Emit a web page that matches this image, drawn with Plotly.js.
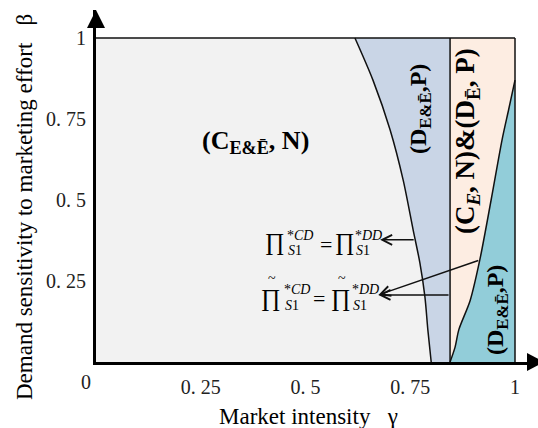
<!DOCTYPE html>
<html><head><meta charset="utf-8">
<script src="https://cdn.plot.ly/plotly-3.0.1.min.js"></script>
<style>html,body{margin:0;padding:0;background:#fff}#chart{width:538px;height:428px}</style>
</head><body><div id="chart"></div>
<script>
// Boundary between (C_E&Ē, N) and (D_E&Ē, P): gamma as function of beta
const b1Beta  = [1.0, 0.870, 0.716, 0.562, 0.407, 0.306, 0.201, 0.099, 0.0];
const b1Gamma = [0.618, 0.661, 0.702, 0.733, 0.757, 0.773, 0.785, 0.792, 0.800];
// Vertical boundary
const b2Gamma = 0.845;
// Boundary between (C_E,N)&(D_Ē,P) and (D_E&Ē,P)
const b3Gamma = [0.845, 0.857, 0.866, 0.893, 0.916, 0.943, 0.969, 0.985, 1.0];
const b3Beta  = [0.0, 0.046, 0.10, 0.19, 0.315, 0.50, 0.685, 0.78, 0.87];
const xTickVals = [0.25, 0.5, 0.75, 1];
const xTickText = ['0. 25', '0. 5', '0. 75', '1'];
const yTickVals = [0.25, 0.5, 0.75, 1];
const yTickText = ['0. 25', '0. 5', '0. 75', '1'];

const SERIF = 'Liberation Serif, Times New Roman, serif';
const L = 96, T = 10, W = 442, H = 352;
function px2x(px) { return (px - L) / W; }
function py2y(py) { return (T + H - py) / H; }
function P(px, py) { return {xref: 'paper', yref: 'paper', x: px2x(px), y: py2y(py)}; }
function interp(xs, ys, v) {
  for (let i = 0; i < xs.length - 1; i++) {
    const a = xs[i], b = xs[i + 1];
    if ((v - a) * (v - b) <= 0) return ys[i] + (ys[i + 1] - ys[i]) * (v - a) / (b - a);
  }
  return ys[ys.length - 1];
}

const gray = '#f2f2f2', blue = '#c9d5e6', peach = '#fdede2', teal = '#92cdd9';
const edge = {color: '#111', width: 1.5};
const traces = [
  {x: [0, b2Gamma, b2Gamma, 0], y: [0, 0, 1, 1], fill: 'toself', fillcolor: blue, mode: 'lines', line: {width: 0}},
  {x: b1Gamma, y: b1Beta, fill: 'tozerox', fillcolor: gray, mode: 'lines', line: Object.assign({shape: 'spline', smoothing: 0.8}, edge)},
  {x: [b2Gamma, 1, 1, b2Gamma], y: [0, 0, 1, 1], fill: 'toself', fillcolor: peach, mode: 'lines', line: {width: 0}},
  {x: b3Gamma, y: b3Beta, fill: 'tozeroy', fillcolor: teal, mode: 'lines', line: Object.assign({shape: 'spline', smoothing: 0.8}, edge)},
  {x: [b2Gamma, b2Gamma], y: [0, 1], mode: 'lines', line: edge},
  {x: [1, 1], y: [0, 1], mode: 'lines', line: edge},
  {x: [0, 1], y: [1, 1], mode: 'lines', line: edge}
];

const ann = [];
function txt(px, py, text, size, opts) {
  ann.push(Object.assign(P(px, py), {text: text, showarrow: false, xanchor: 'center', yanchor: 'middle',
    font: {family: SERIF, size: size, color: '#000'}}, opts || {}));
}
txt(25, 207, 'Demand sensitivity to marketing effort   β', 23, {textangle: -90});
txt(308, 416, 'Market intensity   γ', 23);
txt(86, 382, '0', 20, {font: {family: SERIF, size: 20, color: '#222'}});
txt(255, 142, '<b>(C<sub>E&amp;Ē</sub>, N)</b>', 26);
txt(420, 109, '<b>(D<sub>E&amp;Ē</sub>,P)</b>', 24, {textangle: -90});
txt(467, 141, '<b>(C<sub><i>E</i></sub>, N)&amp;(D<sub>Ē</sub>, P)</b>', 27, {textangle: -90});
txt(497, 310, '<b>(D<sub>E&amp;Ē</sub>,P)</b>', 24, {textangle: -90});
// formula 1
txt(275, 242, '∏', 24);
txt(285, 235, '*<i>CD</i>', 14, {xanchor: 'left'});
txt(286, 251, '<i>S</i>1', 14, {xanchor: 'left'});
txt(326, 244, '=', 22);
txt(345, 242, '∏', 24);
txt(353, 235, '*<i>DD</i>', 14, {xanchor: 'left'});
txt(354, 251, '<i>S</i>1', 14, {xanchor: 'left'});
// formula 2
txt(271, 298, '∏', 24);
txt(272, 278, '~', 14);
txt(282, 289, '*<i>CD</i>', 14, {xanchor: 'left'});
txt(283, 305, '<i>S</i>1', 14, {xanchor: 'left'});
txt(319, 298, '=', 22);
txt(341, 298, '∏', 24);
txt(342, 278, '~', 14);
txt(350, 289, '*<i>DD</i>', 14, {xanchor: 'left'});
txt(351, 305, '<i>S</i>1', 14, {xanchor: 'left'});
function arrow(hx, hy, tx, ty) {
  ann.push({xref: 'x', yref: 'y', axref: 'x', ayref: 'y', x: hx, y: hy, ax: tx, ay: ty, text: '',
    showarrow: true, arrowhead: 5, arrowsize: 1.3, arrowwidth: 1.5, arrowcolor: '#111', standoff: 0, startstandoff: 0});
}
arrow(0.678, 0.377, interp(b1Beta, b1Gamma, 0.377), 0.377);
arrow(0.674, 0.207, b3Gamma[4], b3Beta[4]);
arrow(0.674, 0.207, b2Gamma, 0.207);

function pathOf(pts) { return 'M' + pts.map(p => px2x(p[0]) + ',' + py2y(p[1])).join('L') + 'Z'; }
const axShapes = [
  {type: 'path', xref: 'paper', yref: 'paper', path: pathOf([[96, 10], [87, 28], [105, 28]]), fillcolor: '#000', line: {width: 0}, layer: 'above'},
  {type: 'path', xref: 'paper', yref: 'paper', path: pathOf([[544, 362], [527, 353], [527, 371]]), fillcolor: '#000', line: {width: 0}, layer: 'above'}
];

const layout = {
  width: 538, height: 428,
  margin: {l: L, r: 538 - L - W, t: T, b: 428 - T - H},
  paper_bgcolor: '#fff', plot_bgcolor: '#fff',
  showlegend: false, hovermode: false,
  xaxis: {range: [0, W / 419], showline: true, linewidth: 3, linecolor: '#000', showgrid: false, zeroline: false,
    tickvals: xTickVals, ticktext: xTickText, ticks: '', ticklabelstandoff: 5,
    tickfont: {family: SERIF, size: 20, color: '#222'}, fixedrange: true},
  yaxis: {range: [0, H / 324], showline: true, linewidth: 3, linecolor: '#000', showgrid: false, zeroline: false,
    tickvals: yTickVals, ticktext: yTickText, ticks: '', ticklabelstandoff: 3,
    tickfont: {family: SERIF, size: 20, color: '#222'}, fixedrange: true},
  annotations: ann,
  shapes: axShapes
};
Plotly.newPlot('chart', traces, layout, {displayModeBar: false, staticPlot: true});
</script>
</body></html>
